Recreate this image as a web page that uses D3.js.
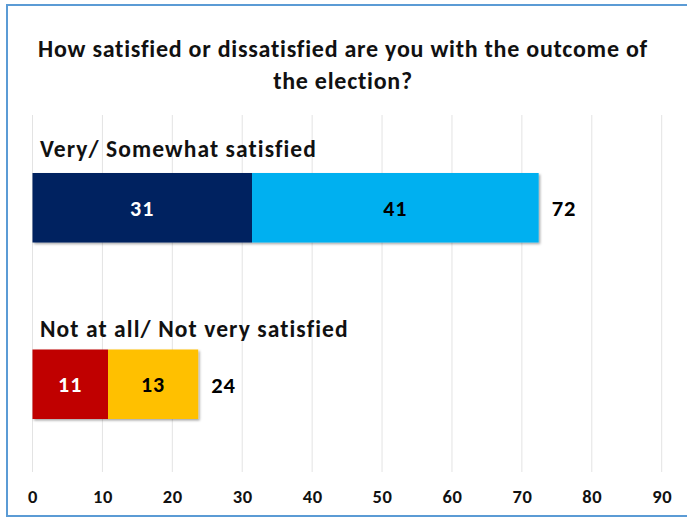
<!DOCTYPE html>
<html><head><meta charset="utf-8">
<script src="https://cdn.jsdelivr.net/npm/d3@7"></script>
<style>body{margin:0;background:#fff;} svg{display:block;}</style>
</head><body>
<script>
const categories = ["Very/ Somewhat satisfied", "Not at all/ Not very satisfied"];
const seg1 = [31.4, 10.8];   // Very satisfied / Not at all satisfied
const seg2 = [41.0, 12.9];   // Somewhat satisfied / Not very satisfied
const seg1Labels = ["31", "11"];
const seg2Labels = ["41", "13"];
const totalLabels = ["72", "24"];
const tickValues = [0,10,20,30,40,50,60,70,80,90];
const titleLines = ["How satisfied or dissatisfied are you with the outcome of", "the election?"];

const W = 687, H = 518;
const font = "Carlito, Lato, 'Open Sans', sans-serif";
const svg = d3.select("body").append("svg").attr("width", W).attr("height", H);

const defs = svg.append("defs");
const f = defs.append("filter").attr("id","sh").attr("x","-5%").attr("y","-10%").attr("width","115%").attr("height","130%");
f.append("feDropShadow").attr("dx",1.5).attr("dy",1.5).attr("stdDeviation",1.2).attr("flood-color","#000").attr("flood-opacity",0.35);

svg.append("rect").attr("x",7).attr("y",5).attr("width",W).attr("height",511)
  .attr("fill","#fff").attr("stroke","#5B9BD5").attr("stroke-width",2);

const x = d3.scaleLinear().domain([0,90]).range([32.5, 661.7]);
const barTop = [173, 349.5];
const barH = 69.5;

// gridlines
svg.append("g").selectAll("line").data(tickValues).join("line")
  .attr("x1", d=>x(d)).attr("x2", d=>x(d)).attr("y1",115).attr("y2",472)
  .attr("stroke","#e3e3e3").attr("stroke-width",1);

// axis labels
const axis = d3.axisBottom(x).tickValues(tickValues).tickSize(0).tickPadding(0);
const ag = svg.append("g").attr("transform","translate(0,502.5)").call(axis);
ag.select(".domain").remove();
ag.selectAll("text").attr("font-family",font).attr("font-weight","bold").attr("font-size",18.5)
  .attr("letter-spacing",0.6).attr("fill","#111").attr("y",0).attr("dy",0);

// title
svg.append("g").selectAll("text").data(titleLines).join("text")
  .attr("x",343).attr("y",(d,i)=>56.7+i*32.5).attr("text-anchor","middle")
  .attr("font-family",font).attr("font-weight","bold").attr("font-size",24).attr("letter-spacing",0.75)
  .attr("fill","#111").text(d=>d);

// category labels
svg.append("g").selectAll("text").data(categories).join("text")
  .attr("x",40).attr("y",(d,i)=>[156.7,336.7][i])
  .attr("font-family",font).attr("font-weight","bold").attr("font-size",23.5).attr("letter-spacing",1.1)
  .attr("fill","#111").text(d=>d);

const colors1 = ["#002060", "#C00000"];
const colors2 = ["#00B0F0", "#FFC000"];
const text1 = ["#fff", "#fff"];
const text2 = ["#000", "#000"];

categories.forEach((c,i)=>{
  const g = svg.append("g").attr("filter","url(#sh)");
  g.append("rect").attr("x",x(0)).attr("y",barTop[i]).attr("width",x(seg1[i])-x(0)).attr("height",barH).attr("fill",colors1[i]);
  g.append("rect").attr("x",x(seg1[i])).attr("y",barTop[i]).attr("width",x(seg1[i]+seg2[i])-x(seg1[i])).attr("height",barH).attr("fill",colors2[i]);
  const cy = barTop[i]+barH/2;
  svg.append("text").attr("x",(x(0)+x(seg1[i]))/2).attr("y",cy).attr("dy","0.36em").attr("text-anchor","middle")
    .attr("font-family",font).attr("font-weight","bold").attr("font-size",22).attr("letter-spacing",1)
    .attr("fill",text1[i]).text(seg1Labels[i]);
  svg.append("text").attr("x",(x(seg1[i])+x(seg1[i]+seg2[i]))/2).attr("y",cy).attr("dy","0.36em").attr("text-anchor","middle")
    .attr("font-family",font).attr("font-weight","bold").attr("font-size",22).attr("letter-spacing",1)
    .attr("fill",text2[i]).text(seg2Labels[i]);
  svg.append("text").attr("x",x(seg1[i]+seg2[i])+13).attr("y",cy+0.5).attr("dy","0.36em").attr("text-anchor","start")
    .attr("font-family",font).attr("font-weight","bold").attr("font-size",22.5).attr("letter-spacing",1)
    .attr("fill","#000").text(totalLabels[i]);
});
</script>
</body></html>
